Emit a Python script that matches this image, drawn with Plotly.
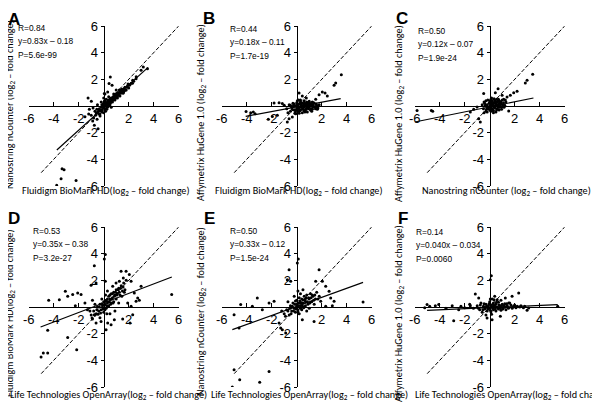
import plotly.graph_objects as go

W, H = 600, 403

# ---------------- data ----------------
PANEL_LETTERS = ["A", "B", "C", "D", "E", "F"]

A_points = [(-3.76, -5.95), (-3.41, -5.45), (-3.33, -4.7), (-3.17, -4.78), (-2.21, -5.58),
            (0.53, 2.18), (0.43, 1.68), (0.67, 1.55), (0.32, 1.05), (0.05, 0.93), (-1.25, 0.6),
            (-0.99, 0.35), (-0.75, -1.45), (-0.53, -1.0), (-0.88, -1.13), (-0.45, -1.7),
            (-0.29, -0.75), (-1.15, -0.25), (-0.85, -0.15), (3.17, 2.93), (2.99, 2.68),
            (2.59, 2.05), (2.32, 1.93), (2.05, 1.55), (3.5, 2.8),
            (-0.6, -0.5), (-0.4, -0.3), (-0.3, -0.6), (-0.2, -0.1), (-0.1, -0.3), (0, 0),
            (0.1, -0.2), (0.1, 0.2), (0.2, 0), (0.3, 0.3), (0.3, -0.1), (0.4, 0.2), (0.5, 0.5),
            (0.5, 0.1), (0.6, 0.35), (0.7, 0.6), (0.7, 0.3), (0.8, 0.5), (0.9, 0.8), (0.9, 0.45),
            (1.0, 0.7), (1.1, 0.95), (1.1, 0.6), (1.2, 0.8), (1.3, 1.1), (1.3, 0.75), (1.4, 1.0),
            (1.5, 1.2), (1.6, 1.05), (1.7, 1.4), (1.8, 1.2), (1.9, 1.5), (2.0, 1.35), (2.2, 1.7),
            (0.2, 0.5), (0.4, 0.7), (-0.2, 0.3), (0, -0.5), (-0.5, 0.1), (0.6, -0.1), (0.8, 0.9),
            (1.0, 1.2), (0.15, -0.4), (-0.05, 0.15), (0.25, 0.15), (0.35, 0.45), (0.45, 0.3),
            (-0.35, -0.2), (-0.15, -0.45), (0.05, 0.35), (0.55, 0.25), (0.65, 0.55), (0.75, 0.45),
            (0.85, 0.65), (0.95, 0.6), (1.05, 0.85), (1.25, 0.95), (1.45, 1.25), (1.55, 0.95),
            (1.75, 1.2), (2.1, 1.6), (2.4, 1.85), (2.6, 2.2), (-1.0, -0.7), (-0.7, -0.4),
            (-0.8, -0.9), (-1.2, -0.6), (-1.5, -0.8), (0, 0.6), (0.1, 0.9),
            (-0.45, -0.45), (-0.25, -0.35), (-0.1, -0.05), (0.05, -0.15), (0.15, 0.05),
            (0.2, 0.25), (0.3, 0.05), (0.35, 0.2), (0.4, 0.4), (0.45, 0.1), (0.5, 0.35),
            (0.55, 0.45), (0.6, 0.6), (0.65, 0.4), (0.7, 0.45), (0.75, 0.7), (0.8, 0.65),
            (0.85, 0.5), (0.9, 0.65), (0.95, 0.9), (1.0, 0.85), (1.05, 0.65), (1.15, 0.8),
            (1.2, 1.0), (1.35, 0.95), (1.4, 1.2), (1.5, 1.05), (1.6, 1.3), (1.65, 1.15),
            (1.85, 1.4), (-0.55, -0.25), (-0.65, -0.7), (-0.15, 0.1), (0.0, 0.2), (0.1, 0.4),
            (0.25, -0.25), (-0.4, -0.6), (1.95, 1.65), (2.3, 1.7), (1.25, 1.2)]

B_points = [(3.57, 2.35), (3.12, 1.73), (2.99, 1.55), (-3.68, -0.5), (-3.47, -0.45), (-3.33, -0.58),
            (-4.05, -0.42), (-1.81, 0.23), (-1.41, 0.25), (-1.15, 0.18), (-2.27, -1.0),
            (-1.95, -0.78), (-1.55, -0.7), (-0.75, -1.2), (-0.61, -0.95), (0.19, 0.98),
            (0.45, 0.75), (0.77, 0.6), (1.52, 0.5), (1.79, 0.85), (2.05, 1.05), (2.27, 0.98),
            (2.45, 0.75), (1.65, -0.08), (1.25, -0.25), (0.85, -0.45), (-0.08, -0.58),
            (-0.35, -0.83),
            (-0.8, -0.2), (-0.6, 0.1), (-0.5, -0.4), (-0.4, -0.1), (-0.3, 0.2), (-0.2, -0.3),
            (-0.1, 0), (0, -0.2), (0, 0.25), (0.1, -0.4), (0.1, 0.1), (0.2, -0.1), (0.3, 0.3),
            (0.3, -0.3), (0.4, 0), (0.5, -0.2), (0.5, 0.2), (0.6, -0.35), (0.7, 0.05),
            (0.8, -0.15), (0.9, 0.25), (1.0, -0.05), (1.1, -0.3), (1.2, 0.1), (1.3, -0.1),
            (1.4, 0.2), (1.5, -0.2), (1.6, 0.05), (1.7, -0.15), (1.8, 0.1), (0.15, 0.45),
            (0.6, 0.4), (0.2, -0.55), (-0.15, -0.55), (0.45, -0.5), (1.0, 0.35), (1.2, -0.4),
            (-0.7, -0.5), (-1.0, 0.05), (0.35, 0.1), (0.55, -0.05), (0.75, -0.25), (0.85, 0.1),
            (-0.25, 0.05), (0.05, -0.05), (0.25, 0.2), (0.65, 0.2), (0.95, -0.2), (1.15, 0.15),
            (1.35, 0.25),
            (-0.5, 0.05), (-0.35, -0.25), (-0.2, 0.15), (-0.05, -0.3), (0.0, 0.05), (0.15, -0.2),
            (0.2, 0.15), (0.25, -0.35), (0.35, -0.1), (0.4, 0.25), (0.45, -0.25), (0.55, 0.1),
            (0.6, -0.1), (0.7, -0.3), (0.75, 0.15), (0.8, 0.3), (0.9, -0.05), (0.95, 0.05),
            (1.05, 0.2), (1.1, 0.0), (1.15, -0.2), (1.25, 0.3), (1.3, 0.05), (1.45, -0.05),
            (1.55, 0.15), (1.65, -0.25), (0.05, 0.4), (-0.1, -0.45), (0.3, 0.45), (0.65, -0.45)]

C_points = [(3.44, 2.38), (2.99, 1.93), (2.85, 1.73), (2.19, 1.1), (1.92, 1.0), (1.65, 0.8),
            (1.39, 0.68), (0.99, 0.8), (1.12, 0.5), (0.67, 1.3), (0.45, 1.0), (-0.48, 0.93),
            (-5.81, -0.33), (-4.67, -0.33), (-4.56, -0.4), (-1.55, -0.45), (-1.28, -0.25),
            (-1.01, -0.08), (-0.88, -0.95), (-0.75, -1.2), (1.52, -0.38),
            (-0.5, -0.2), (-0.4, 0.2), (-0.3, -0.4), (-0.2, 0.1), (-0.1, -0.2), (0, 0.3),
            (0, -0.1), (0.1, -0.4), (0.1, 0.15), (0.2, -0.2), (0.2, 0.4), (0.3, 0), (0.3, -0.35),
            (0.4, 0.2), (0.4, -0.15), (0.5, 0.05), (0.5, -0.45), (0.6, 0.3), (0.6, -0.2),
            (0.7, 0.1), (0.8, -0.1), (0.8, 0.35), (0.9, 0.15), (1.0, -0.05), (1.1, 0.25),
            (1.2, 0.05), (1.3, 0.3), (-0.3, 0.4), (0.15, 0.6), (0.35, 0.55), (-0.45, -0.5),
            (0.05, 0.05), (0.25, 0.1), (0.45, 0.35), (0.65, -0.05), (-0.15, 0.45), (0.55, 0.5),
            (0.75, -0.3), (1.0, 0.45), (-0.6, 0.1), (0.95, -0.25),
            (-0.35, 0.05), (-0.25, -0.25), (-0.15, -0.05), (-0.05, 0.2), (0.0, -0.3), (0.05, 0.4),
            (0.1, -0.05), (0.15, 0.25), (0.2, 0.05), (0.25, -0.3), (0.3, 0.2), (0.35, -0.1),
            (0.4, 0.4), (0.45, 0.0), (0.5, 0.25), (0.55, -0.3), (0.6, 0.1), (0.65, 0.4),
            (0.7, -0.1), (0.75, 0.2), (0.85, 0.0), (0.9, 0.3), (1.05, 0.1), (1.15, -0.1),
            (-0.2, -0.45), (0.1, 0.5), (0.3, -0.5), (-0.45, 0.3), (0.7, 0.5), (1.25, 0.45)]

D_points = [(0.05, 3.6), (0.13, 3.93), (-0.75, 3.1), (0.13, 1.93), (-0.61, 1.8), (-1.01, 1.63),
            (-3.07, 1.18), (-2.88, 0.8), (-2.48, 0.93), (-2.08, 1.05), (-1.81, 0.93),
            (-3.55, 0.55), (-4.4, 0.5), (-2.27, 0.1), (-4.48, -1.75), (-5.01, -3.75),
            (-4.83, -3.45), (-4.48, -3.45), (-2.88, -2.28), (-2.16, -3.2), (0.19, -1.7),
            (0.32, -1.2), (0.59, -1.33), (0.85, -0.95), (1.52, -0.9), (2.11, -1.2), (2.32, -0.58),
            (2.59, 0.43), (2.72, 0.68), (2.85, 0.5), (2.99, 1.55), (5.44, 0.93), (1.79, 2.68),
            (1.39, 2.68), (2.05, 2.43), (1.57, 2.18), (1.25, 1.93), (0.99, 1.8), (0.72, 1.55),
            (2.19, 1.93), (2.45, 1.05), (1.92, 0.3), (2.19, 0.05), (-0.75, -0.58), (-0.93, -0.83),
            (-0.61, -1.2), (-0.21, -1.08),
            (-1.0, -0.6), (-0.8, -0.3), (-0.6, -0.5), (-0.5, 0), (-0.4, -0.3), (-0.3, 0.2),
            (-0.2, -0.2), (-0.1, 0.1), (0, -0.4), (0, 0.4), (0.1, 0.2), (0.2, 0.5), (0.2, -0.1),
            (0.3, 0.3), (0.4, 0.8), (0.4, 0.1), (0.5, 0.6), (0.6, 0.3), (0.6, 1.0), (0.7, 0.7),
            (0.8, 1.1), (0.8, 0.4), (0.9, 0.9), (1.0, 1.3), (1.0, 0.6), (1.1, 1.0), (1.2, 1.4),
            (1.3, 0.9), (1.4, 1.6), (1.5, 1.2), (1.6, 1.8), (1.7, 1.3), (1.8, 2.0), (-1.3, -0.2),
            (-1.5, 0.3), (-0.9, 0.5), (0.3, 1.2), (0.5, -0.5), (0.9, -0.3), (1.2, 0.3),
            (-0.7, 0.2), (0.15, 0.9), (-0.15, 0.6),
            (-0.9, -0.9), (-0.7, -0.6), (-0.55, -0.2), (-0.45, -0.55), (-0.35, 0), (-0.25, -0.45),
            (-0.15, 0.25), (-0.05, -0.15), (0.05, 0.15), (0.1, -0.2), (0.15, 0.45), (0.25, 0.1),
            (0.3, 0.6), (0.35, 0.05), (0.45, 0.4), (0.5, 0.9), (0.55, 0.2), (0.65, 0.6),
            (0.7, 1.0), (0.75, 0.3), (0.85, 0.8), (0.95, 1.1), (1.05, 0.9), (1.15, 1.3),
            (1.25, 1.1), (1.35, 1.4), (1.45, 0.8), (1.55, 1.5), (1.65, 1.1), (-1.1, -0.3),
            (-0.3, -0.8), (0.25, -0.5)]

E_points = [(0.05, 3.3), (0.13, 3.6), (-0.61, 2.8), (-0.75, 2.05), (-0.48, 1.93), (1.79, 2.8),
            (1.52, 1.93), (2.05, 1.93), (2.32, 1.55), (2.59, 1.18), (2.72, 0.68), (2.99, 0.43),
            (2.85, 0.1), (2.32, 0.05), (1.92, 0.43), (5.31, 0.38), (-3.15, 0.68), (-4.48, 0.18),
            (-3.55, 0.05), (-2.21, 0.3), (-1.81, 0.43), (-2.75, -0.2), (-5.01, -0.58),
            (-4.61, -1.58), (-1.41, -1.2), (-1.28, -1.58), (-1.15, -1.7), (-0.88, -1.95),
            (0.45, -0.95), (1.39, -1.08), (-5.01, -4.7), (-4.56, -5.45), (-5.15, -6.0),
            (-2.96, -5.65), (-2.21, -4.83),
            (-1.0, -0.5), (-0.8, -0.2), (-0.6, -0.6), (-0.5, 0.1), (-0.4, -0.3), (-0.3, 0.3),
            (-0.2, -0.1), (-0.1, -0.4), (0, 0.1), (0, 0.5), (0.1, -0.2), (0.2, 0.3), (0.2, -0.5),
            (0.3, 0.1), (0.4, 0.6), (0.4, -0.2), (0.5, 0.3), (0.6, 0.8), (0.6, 0), (0.7, 0.4),
            (0.8, 0.9), (0.9, 0.2), (1.0, 0.6), (1.1, 1.0), (1.2, 0.4), (1.3, 0.8), (1.4, 0.2),
            (1.5, 0.6), (1.6, 1.1), (1.8, 0.8), (0.3, 1.0), (-0.2, 0.8), (0.1, 1.2), (0.8, -0.3),
            (-0.7, 0.4), (1.0, -0.1), (0.5, 1.3), (-1.2, -0.3),
            (-0.9, -0.7), (-0.7, -0.3), (-0.55, -0.1), (-0.45, -0.5), (-0.35, 0.05), (-0.25, -0.3),
            (-0.15, 0.2), (-0.05, -0.15), (0.05, 0.25), (0.1, -0.35), (0.15, 0.1), (0.25, 0.45),
            (0.3, -0.1), (0.35, 0.3), (0.45, 0.1), (0.5, 0.55), (0.55, -0.05), (0.65, 0.5),
            (0.7, 0.1), (0.75, 0.65), (0.85, 0.4), (0.95, 0.7), (1.05, 0.3), (1.15, 0.7),
            (1.25, 0.9), (1.35, 0.5), (1.45, 0.9), (1.7, 0.6), (-0.1, 0.45), (0.2, 0.7)]

F_points = [(0.13, 2.35), (0.05, 2.05), (-1.15, 0.98), (-0.88, 0.68), (-5.01, 0.18), (-4.35, 0.1),
            (-4.08, 0.18), (-2.88, -1.03), (-2.48, -0.2), (-1.55, 0.1), (1.25, 0.68), (1.79, 0.8),
            (2.32, 1.05), (1.52, 0.3), (2.99, -0.25), (3.12, -0.08), (5.44, 0.05), (-0.21, -0.83),
            (0.19, -0.95), (0.85, -0.7),
            (-1.0, 0.1), (-0.8, -0.2), (-0.7, 0.3), (-0.6, -0.4), (-0.5, 0.05), (-0.4, -0.15),
            (-0.3, 0.2), (-0.2, -0.3), (-0.1, 0.1), (0, -0.1), (0, 0.4), (0.1, -0.35), (0.1, 0.15),
            (0.2, 0), (0.3, -0.2), (0.3, 0.3), (0.4, 0.1), (0.5, -0.3), (0.5, 0.2), (0.6, 0),
            (0.7, 0.35), (0.7, -0.15), (0.8, 0.1), (0.9, -0.25), (1.0, 0.2), (1.1, -0.05),
            (1.2, 0.25), (1.3, -0.2), (1.4, 0.1), (1.6, 0.3), (1.8, -0.1), (2.0, 0.15), (2.2, 0.05),
            (2.5, 0.1), (2.7, -0.05), (2.8, 0.05), (-1.3, -0.1), (-1.6, 0.2), (-2.0, -0.05),
            (-2.3, 0.05), (-3.0, 0.1), (-3.5, -0.1), (-4.8, 0.05), (-5.2, -0.05), (0.2, 0.6),
            (0.4, 0.8), (0.6, 0.55), (-0.3, -0.6), (0.15, -0.55), (0.9, 0.5),
            (-0.9, -0.1), (-0.75, 0.15), (-0.55, -0.2), (-0.45, 0.25), (-0.35, -0.05),
            (-0.25, 0.05), (-0.15, -0.15), (-0.05, 0.25), (0.05, -0.25), (0.15, 0.05), (0.25, 0.2),
            (0.25, -0.1), (0.35, 0.1), (0.45, -0.15), (0.55, 0.35), (0.65, -0.05), (0.75, 0.15),
            (0.85, -0.1), (0.95, 0.1), (1.05, -0.15), (1.15, 0.1), (1.25, 0.0), (1.35, 0.25),
            (1.5, -0.1), (1.7, 0.15), (1.9, 0.05), (2.1, -0.05), (2.4, 0.0), (0.05, 0.6),
            (0.35, 0.55)]

# fitted line end points (x, y) as drawn
FIT_X = [[-3.75, 3.55], [-4.08, 3.52], [-6.0, 3.5], [-5.05, 5.45], [-5.15, 5.31], [-5.01, 5.44]]
FIT_Y = [[-3.3, 2.9], [-0.78, 0.55], [-1.2, 0.6], [-1.5, 2.25], [-1.7, 1.85], [-0.25, 0.18]]

DIAG = [-5, 6]

STATS = [
    ["R=0.84", "y=0.83x – 0.18", "P=5.6e-99"],
    ["R=0.44", "y=0.18x – 0.11", "P=1.7e-19"],
    ["R=0.50", "y=0.12x – 0.07", "P=1.9e-24"],
    ["R=0.53", "y=0.35x – 0.38", "P=3.2e-27"],
    ["R=0.50", "y=0.33x – 0.12", "P=1.5e-24"],
    ["R=0.14", "y=0.040x – 0.034", "P=0.0060"],
]

LOG = "(log<sub>2</sub> – fold change)"
X_TITLES = ["Fluidigm BioMark HD" + LOG, "Fluidigm BioMark HD" + LOG, "Nanostring nCounter " + LOG,
            "Life Technologies OpenArray" + LOG, "Life Technologies OpenArray" + LOG,
            "Life Technologies OpenArray" + LOG]
Y_TITLES = ["Nanostring nCounter " + LOG, "Affymetrix HuGene 1.0 " + LOG,
            "Affymetrix HuGene 1.0 " + LOG, "Fluidigm BioMark HD" + LOG,
            "Nanostring nCounter " + LOG, "Affymetrix HuGene 1.0 " + LOG]

TICK_VALS = [-6, -4, -2, 2, 4, 6]
TICK_TEXT = ["-6", "-4", "-2", "2", "4", "6"]

ALL_POINTS = [A_points, B_points, C_points, D_points, E_points, F_points]

# ---------------- layout geometry (pixels) ----------------
COLS = [(20.7, 170.7), (213.7, 363.7), (406.7, 556.7)]
ROWS = [(18, 178), (219, 379)]
STAT_POS = [(8, 20), (220, 21), (408, 23), (23, 223), (220, 223), (406, 224)]
LETTER_POS = [(6, 11), (201, 10), (394, 10), (6, 211), (201, 210), (395, 210)]
XT_POS = [(98, 183), (291, 183), (498, 183), (100, 387), (301, 387), (505, 387)]
# y titles: (x, anchor, pixel shift, y)
YT_POS = [(0, "left", -7, 97), (193, "center", 0, 105), (391, "center", 0, 105),
          (0, "left", -7, 305), (193, "center", 0, 304), (391, "center", 0, 305)]

TICKF = "Liberation Sans, Arial, sans-serif"
STATF = "Liberation Sans, Arial, sans-serif"
TITLEF = "Carlito, Calibri, Lato, sans-serif"
TITLE_SIZE = 10.2


def px(x):
    return x / W


def py(y):
    return 1 - y / H


fig = go.Figure()
layout = dict(width=W, height=H, margin=dict(l=0, r=0, t=0, b=0),
              paper_bgcolor="white", plot_bgcolor="white", showlegend=False)
annotations = []

for i in range(6):
    r, c = divmod(i, 3)
    n = "" if i == 0 else str(i + 1)
    xd = [px(COLS[c][0]), px(COLS[c][1])]
    yd = [py(ROWS[r][1]), py(ROWS[r][0])]
    pts = ALL_POINTS[i]
    xs = [p[0] for p in pts]
    ys = [p[1] for p in pts]
    fig.add_trace(go.Scatter(x=DIAG, y=DIAG, mode="lines", xaxis="x" + n, yaxis="y" + n,
                             line=dict(color="black", width=1, dash="4px,2px"), hoverinfo="skip"))
    fig.add_trace(go.Scatter(x=xs, y=ys, mode="markers", xaxis="x" + n, yaxis="y" + n,
                             marker=dict(color="black", size=3)))
    fig.add_trace(go.Scatter(x=FIT_X[i], y=FIT_Y[i], mode="lines", xaxis="x" + n, yaxis="y" + n,
                             line=dict(color="black", width=1.2)))
    layout["xaxis" + n] = dict(domain=xd, range=[-6, 6], anchor="free",
                               position=(yd[0] + yd[1]) / 2, showline=True, linecolor="black",
                               linewidth=1, ticks="inside", ticklen=4, tickcolor="black",
                               tickvals=TICK_VALS, ticktext=TICK_TEXT, showgrid=False,
                               zeroline=False, automargin=False,
                               tickfont=dict(family=TICKF, size=13, color="black"))
    layout["yaxis" + n] = dict(domain=yd, range=[-6, 6], anchor="free",
                               position=(xd[0] + xd[1]) / 2, side="left", showline=True,
                               linecolor="black", linewidth=1, ticks="outside", ticklen=3,
                               tickcolor="black", tickvals=TICK_VALS, ticktext=TICK_TEXT,
                               showgrid=False, zeroline=False, automargin=False,
                               tickfont=dict(family=TICKF, size=13, color="black"))
    sx, sy = STAT_POS[i]
    for k, t in enumerate(STATS[i]):
        annotations.append(dict(x=px(sx), y=py(sy + 13.3 * k), xref="paper", yref="paper",
                                text=t, showarrow=False, xanchor="left", yanchor="middle",
                                font=dict(family=STATF, size=8.4, color="black")))
    lx, ly = LETTER_POS[i]
    annotations.append(dict(x=px(lx), y=py(ly), xref="paper", yref="paper",
                            text="<b>" + PANEL_LETTERS[i] + "</b>", showarrow=False,
                            xanchor="center", yanchor="middle",
                            font=dict(family="Liberation Sans, Arial, sans-serif", size=17,
                                      color="black")))
    tx, ty = XT_POS[i]
    annotations.append(dict(x=px(tx), y=py(ty), xref="paper", yref="paper", text=X_TITLES[i],
                            showarrow=False, xanchor="center", yanchor="middle",
                            font=dict(family=TITLEF, size=TITLE_SIZE, color="black")))
    yx, yanc, ysh, yy = YT_POS[i]
    annotations.append(dict(x=px(yx), y=py(yy), xref="paper", yref="paper", text=Y_TITLES[i],
                            showarrow=False, xanchor=yanc, yanchor="middle", textangle=-90,
                            xshift=ysh,
                            font=dict(family=TITLEF, size=TITLE_SIZE, color="black")))

layout["annotations"] = annotations
fig.update_layout(**layout)
fig.write_html("out.html")
